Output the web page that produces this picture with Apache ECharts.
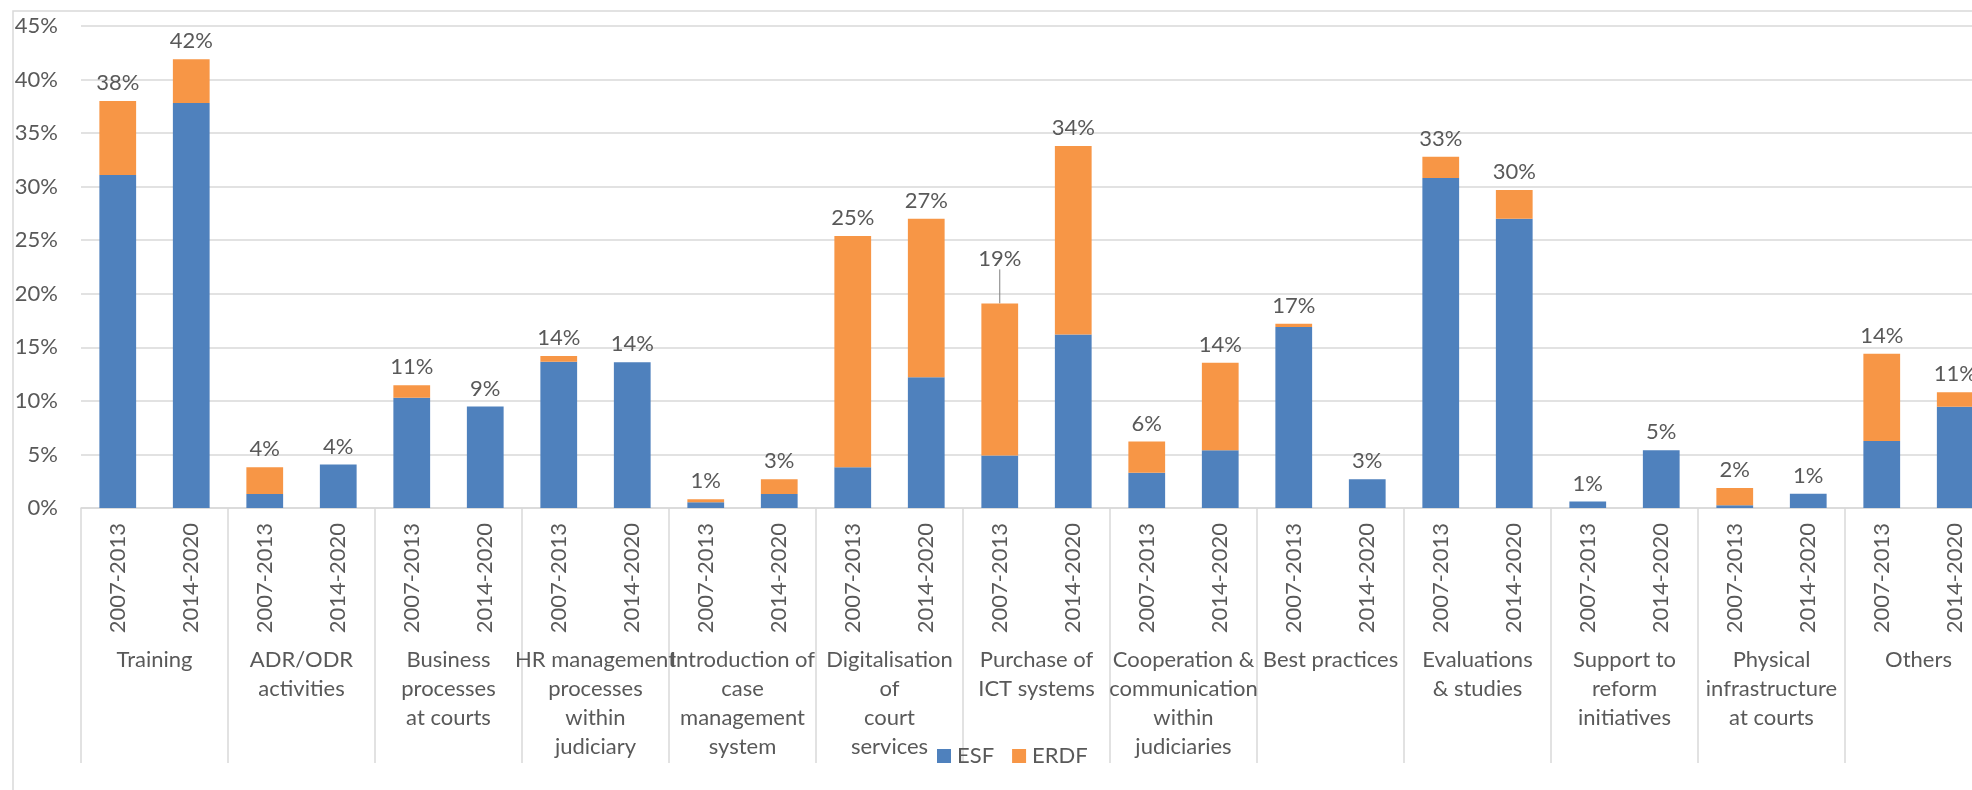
<!DOCTYPE html>
<html>
<head>
<meta charset="utf-8">
<script src="https://cdn.jsdelivr.net/npm/echarts@6/dist/echarts.min.js"></script>
<style>
html,body{margin:0;padding:0;background:#fff;overflow:hidden;width:1972px;height:790px;}
#chart{width:1992px;height:790px;}
</style>
</head>
<body>
<div id="chart"></div>
<script>
const groups = ['Training', 'ADR/ODR\nactivities', 'Business\nprocesses\nat courts',
  'HR management\nprocesses\nwithin\njudiciary', 'Introduction of\ncase\nmanagement\nsystem',
  'Digitalisation\nof\ncourt\nservices', 'Purchase of\nICT systems',
  'Cooperation &\ncommunication\nwithin\njudiciaries', 'Best practices',
  'Evaluations\n& studies', 'Support to\nreform\ninitiatives',
  'Physical\ninfrastructure\nat courts', 'Others'];
const periods = ['2007-2013', '2014-2020'];
// values in %, one per bar (group x period)
const esf = [31.1, 37.8, 1.3, 4.05, 10.3, 9.48, 13.65, 13.6, 0.54, 1.3, 3.8, 12.2, 4.9, 16.2,
  3.3, 5.4, 16.9, 2.69, 30.8, 27.0, 0.6, 5.4, 0.25, 1.33, 6.26, 9.45];
const erdf = [6.9, 4.1, 2.5, 0, 1.15, 0, 0.55, 0, 0.28, 1.39, 21.6, 14.8, 14.2, 17.6,
  2.9, 8.15, 0.3, 0, 2.0, 2.7, 0, 0, 1.61, 0, 8.14, 1.35];
const yTicks = [0, 45, 5];

const barLabels = [];
groups.forEach(() => periods.forEach(p => barLabels.push(p)));
const totals = esf.map((v, i) => v + erdf[i]);

const FONT = 'Lato';
const TXT = '#595959';
const GRID = '#d9d9d9';

const chart = echarts.init(document.getElementById('chart'), null, {renderer: 'canvas'});
chart.setOption({
  animation: false,
  backgroundColor: '#fff',
  textStyle: {fontFamily: FONT},
  graphic: [{
    type: 'rect', silent: true, z: -10,
    shape: {x: 13, y: 11, width: 2100, height: 1000},
    style: {fill: 'none', stroke: GRID, lineWidth: 1.5}
  }],
  grid: {left: 81, right: 0, top: 26, bottom: 282, containLabel: false},
  legend: {
    data: ['ESF', 'ERDF'], left: 937, top: 745, padding: 0,
    itemWidth: 14, itemHeight: 14, itemGap: 18, icon: 'rect',
    textStyle: {color: TXT, fontSize: 22, fontFamily: FONT, padding: [0, 0, 0, 1]}
  },
  xAxis: [{
    type: 'category', data: barLabels, position: 'bottom',
    axisLine: {show: true, lineStyle: {color: GRID, width: 1.5}},
    axisTick: {show: false},
    axisLabel: {interval: 0, rotate: 90, margin: 15, color: TXT, fontSize: 22, fontFamily: FONT},
    splitLine: {show: false}
  }, {
    type: 'category', data: groups, position: 'bottom', offset: 0,
    axisLine: {show: false},
    axisTick: {show: true, length: 255, lineStyle: {color: GRID, width: 1.5}},
    axisLabel: {interval: 0, margin: 137, color: TXT, fontSize: 22, fontFamily: FONT,
      lineHeight: 29, verticalAlign: 'top', align: 'center'},
    splitLine: {show: false}
  }],
  yAxis: {
    type: 'value', min: yTicks[0], max: yTicks[1], interval: yTicks[2],
    axisLine: {show: false}, axisTick: {show: false},
    axisLabel: {formatter: '{value}%', margin: 23, color: TXT, fontSize: 22, fontFamily: FONT},
    splitLine: {lineStyle: {color: GRID, width: 1.5}}
  },
  series: [{
    name: 'ESF', type: 'bar', stack: 'total', xAxisIndex: 0,
    barCategoryGap: '50%',
    itemStyle: {color: '#4f81bd'},
    data: esf
  }, {
    name: 'ERDF', type: 'bar', stack: 'total', xAxisIndex: 0,
    barCategoryGap: '50%',
    itemStyle: {color: '#f79646'},
    data: erdf.map((v, i) => i === 12 ? {value: v, labelLine: {show: true, lineStyle: {color: '#7f7f7f', width: 1}}} : v),
    label: {
      show: true, position: 'top', distance: 7, color: TXT, fontSize: 22, fontFamily: FONT,
      formatter: p => Math.round(totals[p.dataIndex]) + '%'
    },
    labelLayout: p => (p.dataIndex === 12 ? {dy: -27} : {})
  }]
});
</script>
</body>
</html>
